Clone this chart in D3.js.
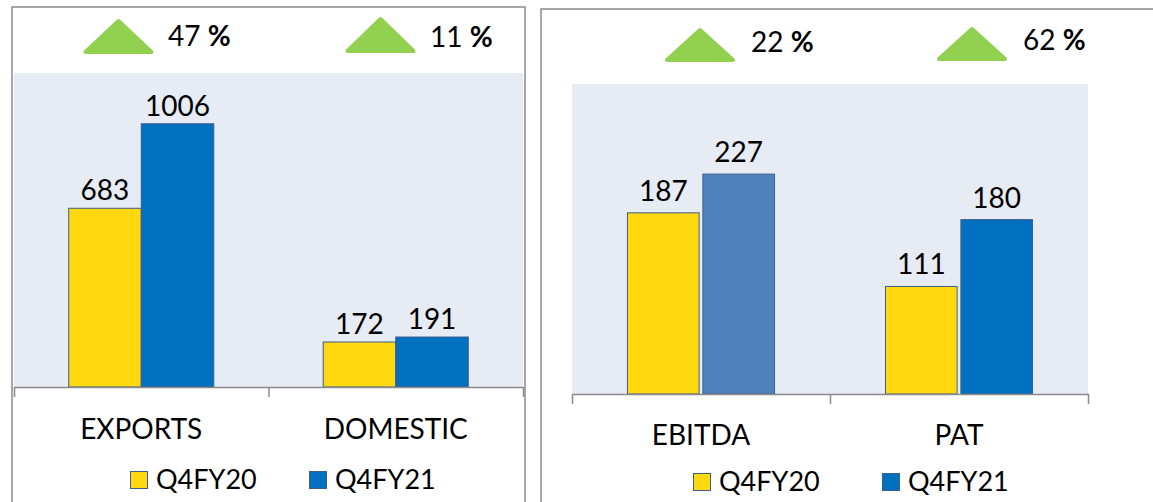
<!DOCTYPE html>
<html>
<head>
<meta charset="utf-8">
<script src="https://cdn.jsdelivr.net/npm/d3@7"></script>
<style>
  body { margin: 0; background: #fff; }
  svg text { font-family: Lato, "Open Sans", sans-serif; fill: #000; }
</style>
</head>
<body>
<div id="chart"></div>
<script>
(function() {
  var width = 1153,
      height = 502;

  // left chart
  const salesCategories = ["EXPORTS", "DOMESTIC"];
  const salesQ4FY20 = [683, 172];
  const salesQ4FY21 = [1006, 191];
  const salesGrowth = [47, 11];

  // right chart
  const profitCategories = ["EBITDA", "PAT"];
  const profitQ4FY20 = [187, 111];
  const profitQ4FY21 = [227, 180];
  const profitGrowth = [22, 62];

  const seriesNames = ["Q4FY20", "Q4FY21"];

  var yellow = "#FFD80F",
      blue = "#0070C0",
      steel = "#4F81BD",
      barStroke = "#3B5E8C",
      plotBg = "#E7EBF4",
      lineGrey = "#8A8A8A",
      arrowGreen = "#92D050";

  var panels = [
    {
      cats: salesCategories, series: [salesQ4FY20, salesQ4FY21], growth: salesGrowth,
      yMax: 1200, fills: [[yellow, yellow], [blue, blue]],
      box: [12, 7, 513], plot: [14, 523, 73, 387], innerPad: 0, labelGap: 8, catY: 439,
      arrows: [[118.5, 19, 54, 168, 46], [380.5, 17, 53, 430, 47]],
      legend: [130, 179, 471]
    },
    {
      cats: profitCategories, series: [profitQ4FY20, profitQ4FY21], growth: profitGrowth,
      yMax: 320, fills: [[yellow, yellow], [steel, blue]],
      box: [541, 9, 640], plot: [572, 1088, 84, 394], innerPad: 0.05, labelGap: 12, catY: 445,
      arrows: [[700, 28, 62, 751, 52], [972, 27, 61, 1023, 50]],
      legend: [693, 189, 473]
    }
  ];

  var svg = d3.select("#chart").append("svg")
      .attr("width", width)
      .attr("height", height);

  panels.forEach(p => {
    var g = svg.append("g");
    var [px0, px1, py0, py1] = p.plot;

    // outer frame
    g.append("rect")
        .attr("x", p.box[0])
        .attr("y", p.box[1])
        .attr("width", p.box[2])
        .attr("height", height + 20)
        .attr("fill", "none")
        .attr("stroke", lineGrey)
        .attr("stroke-width", 1.5);

    // plot background
    g.append("rect")
        .attr("x", px0)
        .attr("y", py0)
        .attr("width", px1 - px0)
        .attr("height", py1 - py0)
        .attr("fill", plotBg);

    var x = d3.scaleBand()
        .domain(p.cats)
        .range([px0, px1])
        .paddingInner(0.43)
        .paddingOuter(0.215);

    var xInner = d3.scaleBand()
        .domain(d3.range(p.series.length))
        .range([0, x.bandwidth()])
        .paddingInner(p.innerPad);

    var y = d3.scaleLinear()
        .domain([0, p.yMax])
        .range([py1, py0]);

    var rows = p.cats.map((c, i) => ({
      cat: c,
      vals: p.series.map((s, j) => ({ j: j, i: i, v: s[i] }))
    }));

    var groups = g.append("g")
      .selectAll("g")
      .data(rows)
      .join("g")
        .attr("transform", d => `translate(${x(d.cat)},0)`);

    groups.selectAll("rect")
        .data(d => d.vals)
        .join("rect")
          .attr("x", d => xInner(d.j))
          .attr("y", d => y(d.v))
          .attr("width", xInner.bandwidth())
          .attr("height", d => y(0) - y(d.v))
          .attr("fill", d => p.fills[d.j][d.i])
          .attr("stroke", barStroke)
          .attr("stroke-width", 1);

    groups.selectAll("text")
        .data(d => d.vals)
        .join("text")
          .attr("x", d => xInner(d.j) + xInner.bandwidth() / 2)
          .attr("y", d => y(d.v) - p.labelGap)
          .attr("text-anchor", "middle")
          .attr("font-size", "28px")
          .text(d => d.v);

    // category axis, ticks at band edges
    var xEdges = d3.scaleLinear()
        .domain([0, p.cats.length])
        .range([px0, px1]);

    var axis = d3.axisBottom(xEdges)
        .tickValues(d3.range(p.cats.length + 1))
        .tickSize(10)
        .tickSizeOuter(0)
        .tickFormat("");

    g.append("g")
        .attr("transform", `translate(0,${py1})`)
        .call(axis)
        .call(a => a.selectAll("path, line")
          .attr("stroke", lineGrey)
          .attr("stroke-width", 1.5));

    g.append("g")
      .selectAll("text")
      .data(p.cats)
      .join("text")
        .attr("x", d => x(d) + x.bandwidth() / 2)
        .attr("y", p.catY)
        .attr("text-anchor", "middle")
        .attr("font-size", "28px")
        .text(d => d);

    // growth arrows
    var arrows = g.append("g")
      .selectAll("g")
      .data(p.growth.map((v, i) => ({ v: v, a: p.arrows[i] })))
      .join("g");

    arrows.append("path")
        .attr("d", d => {
          var [cx, top, base] = d.a, hw = 33;
          return `M${cx - hw},${base - 2}L${cx},${top + 2}L${cx + hw},${base - 2}Z`;
        })
        .attr("fill", arrowGreen)
        .attr("stroke", arrowGreen)
        .attr("stroke-width", 4)
        .attr("stroke-linejoin", "round");

    var pct = arrows.append("text")
        .attr("x", d => d.a[3])
        .attr("y", d => d.a[4])
        .attr("font-size", "28px");
    pct.append("tspan").text(d => d.v + " ");
    pct.append("tspan").attr("font-weight", "bold").text("%");

    // legend
    var [lx, lstep, ly] = p.legend;
    var leg = g.append("g")
      .selectAll("g")
      .data(seriesNames)
      .join("g")
        .attr("transform", (d, i) => `translate(${lx + i * lstep},${ly})`);

    leg.append("rect")
        .attr("x", 0.5)
        .attr("y", 0.5)
        .attr("width", 17)
        .attr("height", 17)
        .attr("fill", (d, i) => i ? blue : yellow)
        .attr("stroke", barStroke)
        .attr("stroke-width", 1);

    leg.append("text")
        .attr("x", 26)
        .attr("y", 18)
        .attr("font-size", "27px")
        .text(d => d);
  });
})();
</script>
</body>
</html>
